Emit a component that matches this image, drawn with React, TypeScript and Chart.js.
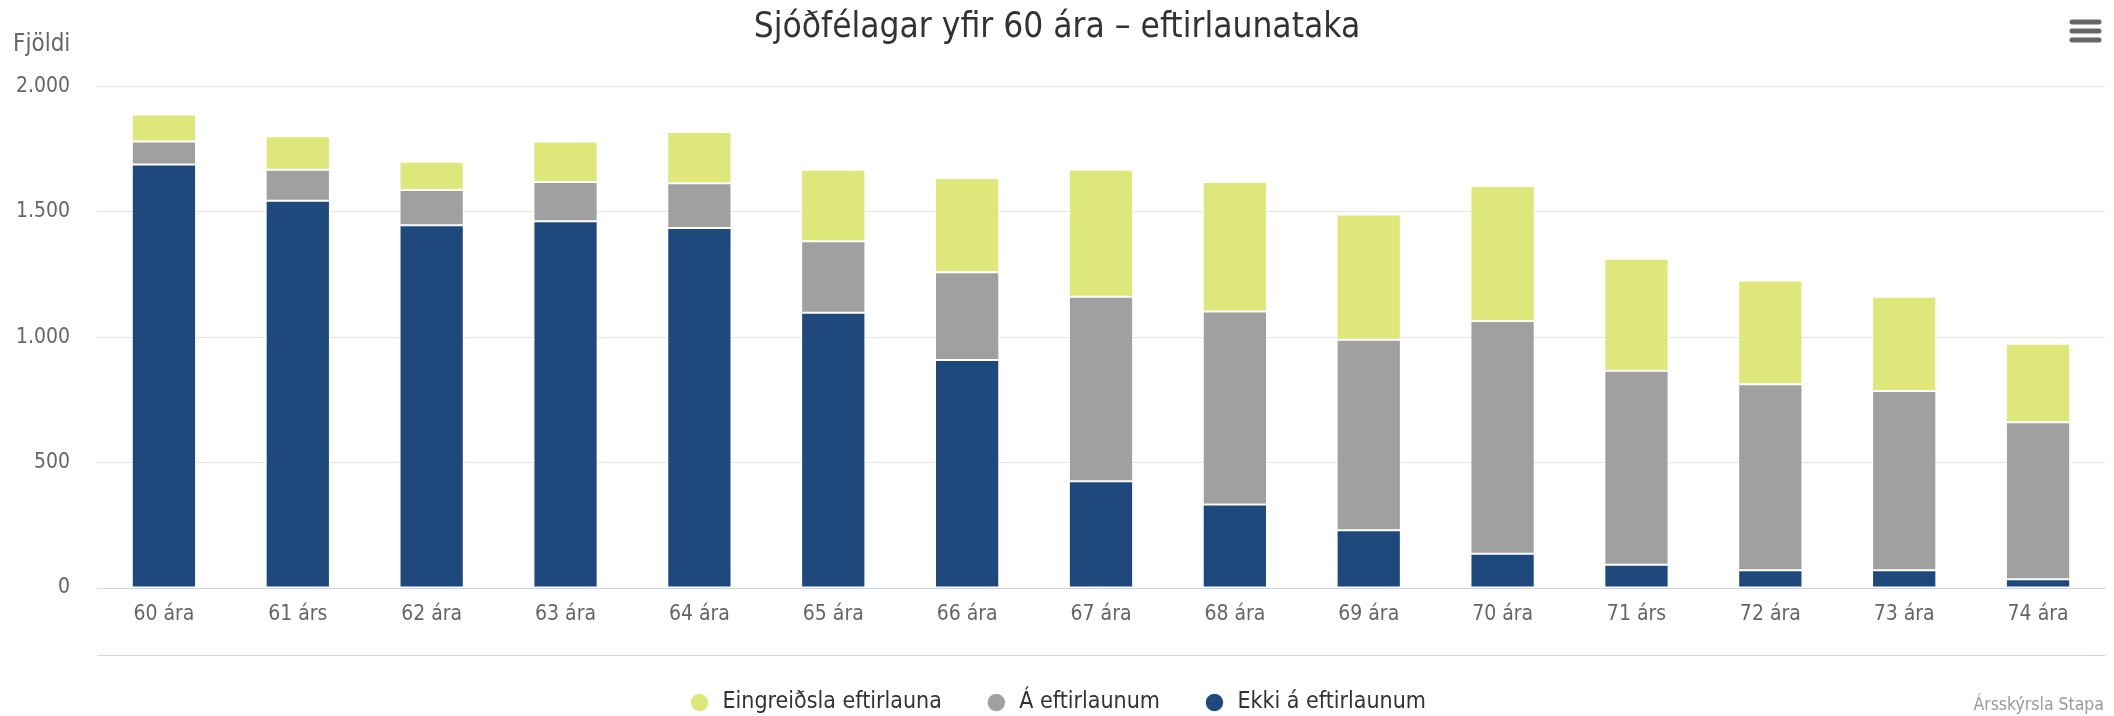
import React, { useEffect, useRef } from "react";
import { Chart, registerables } from "chart.js";

Chart.register(...registerables);

const categories = ["60 ára", "61 árs", "62 ára", "63 ára", "64 ára", "65 ára", "66 ára", "67 ára", "68 ára", "69 ára", "70 ára", "71 árs", "72 ára", "73 ára", "74 ára"];
const ekkiAEftirlaunum = [1688, 1543, 1446, 1462, 1435, 1097, 909, 425, 333, 230, 137, 93, 71, 71, 35];
const aEftirlaunum = [92, 124, 140, 156, 178, 285, 349, 736, 769, 759, 927, 773, 741, 714, 626];
const eingreidsla = [107, 134, 113, 162, 204, 285, 376, 506, 516, 500, 538, 446, 414, 376, 312];
const yTicks = [0, 500, 1000, 1500, 2000];

const FONT = "'DejaVu Sans Condensed', 'DejaVu Sans', sans-serif";

const fmt = (v: number) => String(v).replace(/\B(?=(\d{3})+(?!\d))/g, ".");

const extras = {
  id: "extras",
  afterDraw(chart: any) {
    const { ctx, chartArea } = chart;
    ctx.save();
    // axis title
    ctx.fillStyle = "#666666";
    ctx.font = `24px ${FONT}`;
    ctx.textAlign = "left";
    ctx.textBaseline = "middle";
    ctx.fillText("Fjöldi", 13, 45);
    // second line below axis
    ctx.strokeStyle = "#ccd6eb";
    ctx.lineWidth = 1;
    ctx.beginPath();
    ctx.moveTo(chartArea.left, 655.5);
    ctx.lineTo(chartArea.right, 655.5);
    ctx.stroke();
    // credits
    ctx.fillStyle = "#999999";
    ctx.font = `17.5px ${FONT}`;
    ctx.textAlign = "right";
    ctx.fillText("Ársskýrsla Stapa", 2104, 705);
    // menu icon
    ctx.strokeStyle = "#666666";
    ctx.lineWidth = 5;
    ctx.lineCap = "round";
    [22, 31, 40].forEach((y) => {
      ctx.beginPath();
      ctx.moveTo(2072, y);
      ctx.lineTo(2099, y);
      ctx.stroke();
    });
    ctx.restore();
  },
};

export default function App() {
  const ref = useRef<HTMLCanvasElement>(null);
  useEffect(() => {
    document.body.style.margin = "0";
    const chart = new Chart(ref.current!, {
      type: "bar",
      data: {
        labels: categories,
        datasets: [
          { label: "Ekki á eftirlaunum", data: ekkiAEftirlaunum, backgroundColor: "#1f497d" },
          { label: "Á eftirlaunum", data: aEftirlaunum, backgroundColor: "#a0a0a0" },
          { label: "Eingreiðsla eftirlauna", data: eingreidsla, backgroundColor: "#dde77a" },
        ].map((d) => ({
          ...d,
          borderColor: "#ffffff",
          borderWidth: 1,
          borderSkipped: false,
          categoryPercentage: 0.6,
          barPercentage: 0.8,
        })),
      },
      options: {
        responsive: false,
        animation: false,
        layout: { padding: { left: 9, right: 9, top: 0, bottom: -8 } },
        font: { family: FONT },
        plugins: {
          title: {
            display: true,
            text: "Sjóðfélagar yfir 60 ára – eftirlaunataka",
            color: "#333333",
            font: { family: FONT, size: 35, weight: "normal", lineHeight: 1.2 },
            padding: { top: 6.5, bottom: 37.7 },
          },
          legend: {
            position: "bottom",
            reverse: true,
            labels: {
              usePointStyle: true,
              pointStyle: "circle",
              boxWidth: 23,
              boxHeight: 13,
              padding: 43,
              color: "#333333",
              font: { family: FONT, size: 23 },
            },
          },
          tooltip: { enabled: false },
        },
        scales: {
          x: {
            stacked: true,
            grid: { display: false, drawTicks: false },
            border: { display: true, color: "#ccd6eb", width: 1 },
            ticks: { color: "#666666", font: { family: FONT, size: 21 }, padding: 14, maxRotation: 0 },
            afterFit: (s: any) => { s.height = 60; },
          },
          y: {
            stacked: true,
            min: 0,
            max: 2000,
            afterBuildTicks: (s: any) => { s.ticks = yTicks.map((v) => ({ value: v })); },
            grid: { color: "#e6e6e6", drawTicks: false },
            border: { display: false },
            ticks: {
              color: "#666666",
              font: { family: FONT, size: 21 },
              padding: 27,
              callback: (v: any) => fmt(Number(v)),
            },
            afterFit: (s: any) => { s.width = 88; },
          },
        },
      },
      plugins: [extras],
    });
    return () => chart.destroy();
  }, []);
  return <canvas ref={ref} width={2114} height={716} style={{ display: "block" }} />;
}
